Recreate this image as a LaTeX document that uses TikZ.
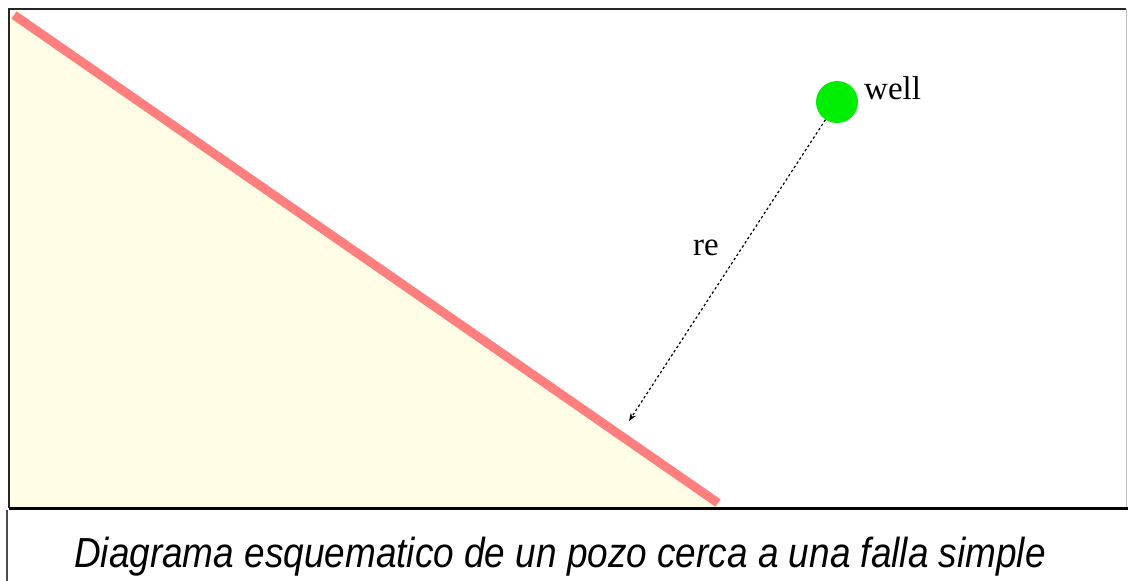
\documentclass[tikz,border=0pt]{standalone}
\usepackage{fontspec}
\setmainfont{Liberation Serif}
\setsansfont{Liberation Sans}
\usetikzlibrary{positioning, calc, arrows.meta}
\definecolor{faultred}{HTML}{FF7F7F}
\definecolor{rockfill}{HTML}{FFFDE6}
\definecolor{wellgreen}{HTML}{00EE00}

\begin{document}
\begin{tikzpicture}[
        x=1pt, y=-1pt,
        font=\fontsize{33}{38}\selectfont,
        wellnode/.style={circle, fill=wellgreen, minimum size=42pt, inner sep=0pt},
        caption/.style={font=\sffamily\itshape\fontsize{42}{48}\selectfont, inner sep=0pt},
        fault/.style={faultred, line width=9pt},
        arrow/.style={-{Stealth[length=8pt, width=6pt]}, dash pattern=on 2.5pt off 2.5pt, line width=1.2pt}
    ]
    \useasboundingbox (0,0) rectangle (1128,581);

    % Frame and rock block
    \fill[rockfill] (9,12) -- (720,508) -- (9,508) -- cycle;
    \draw[line width=1.5pt, black!85] (9,508) -- (9,9) -- (1126,9);
    \draw[line width=1pt, black!25] (1126,9) -- (1126,508);
    \draw[line width=3pt] (9,508) -- (1128,508);
    \draw[line width=1.2pt, black!70] (7,510) -- (7,581);

    % Fault
    \coordinate (faultA) at (14,15);
    \coordinate (faultB) at (718,503);
    \draw[fault] (faultA) -- (faultB);
    \coordinate (image) at (629,421);

    % Nodes
    \node (well) [wellnode] at (837,102) {};
    \node (welllabel) [anchor=base west, inner sep=0pt] at (864,99) {well};
    \node (re) [anchor=base west, inner sep=0pt] at (693,255) {re};
    \node (title) [caption, anchor=base] at (560,567) {\scalebox{0.88}[1]{Diagrama esquematico de un pozo cerca a una falla simple}};

    % Arrows
    \draw [arrow] (well) -- (image);

\end{tikzpicture}
\end{document}
